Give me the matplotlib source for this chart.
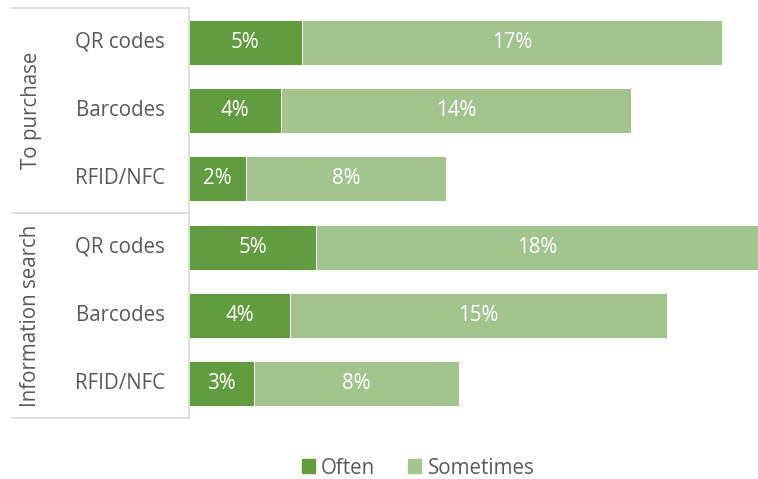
import matplotlib.pyplot as plt
from matplotlib.lines import Line2D
from matplotlib.patches import Patch
from matplotlib.transforms import blended_transform_factory

plt.rcParams['font.family'] = ['Open Sans', 'DejaVu Sans']

groups = ['To purchase', 'Information search']
techs = ['QR codes', 'Barcodes', 'RFID/NFC']
often = [4.52, 3.7, 2.3, 5.1, 4.05, 2.6]
sometimes = [16.85, 14.0, 8.0, 17.7, 15.1, 8.2]

c_often = '#629B40'
c_some = '#A3C48F'
grey = '#595959'
line_c = '#D9D9D9'
fs = 14.8

W, H = 758, 479
fig = plt.figure(figsize=(W / 100, H / 100), dpi=100)
ax = fig.add_axes([189 / W, 1 - 418 / H, (758 - 189) / W, 410 / H])

n = len(often)
ypos = list(range(n))
ax.barh(ypos, often, height=0.66, color=c_often, edgecolor='white', linewidth=0.6)
ax.barh(ypos, sometimes, left=often, height=0.66, color=c_some, edgecolor='white', linewidth=0.6)

for y, o, s in zip(ypos, often, sometimes):
    ax.text(o / 2, y, f'{o:.0f}%', ha='center', va='center', color='white', fontsize=fs)
    ax.text(o + s / 2, y, f'{s:.0f}%', ha='center', va='center', color='white', fontsize=fs)

ax.set_xlim(0, 22.8)
ax.set_ylim(n - 0.5, -0.5)
ax.axis('off')

# category axis with group separators
tr = blended_transform_factory(fig.transFigure, ax.transData)
ax.plot([0, 0], [-0.5, n - 0.5], color=line_c, lw=1.2, clip_on=False)
for yb in [-0.5, 2.5, 5.5]:
    ax.add_line(Line2D([12 / W, 189 / W], [yb, yb], color=line_c, lw=1.2, transform=tr, clip_on=False))

for i, y in enumerate(ypos):
    ax.text(165 / W, y, techs[i % 3], ha='right', va='center', color=grey, fontsize=fs, transform=tr)

for g, name in enumerate(groups):
    ax.text(31 / W, g * 3 + 1, name, ha='center', va='center', rotation=90, color=grey,
            fontsize=fs, transform=tr)

handles = [Patch(color=c_often), Patch(color=c_some)]
fig.legend(handles, ['Often', 'Sometimes'], loc='center', bbox_to_anchor=(418 / W, 1 - 468 / H),
           ncol=2, frameon=False, fontsize=fs, labelcolor=grey, handlelength=0.65, handleheight=0.65,
           handletextpad=0.3, columnspacing=1.6)

fig.savefig('out.png', dpi=100)
